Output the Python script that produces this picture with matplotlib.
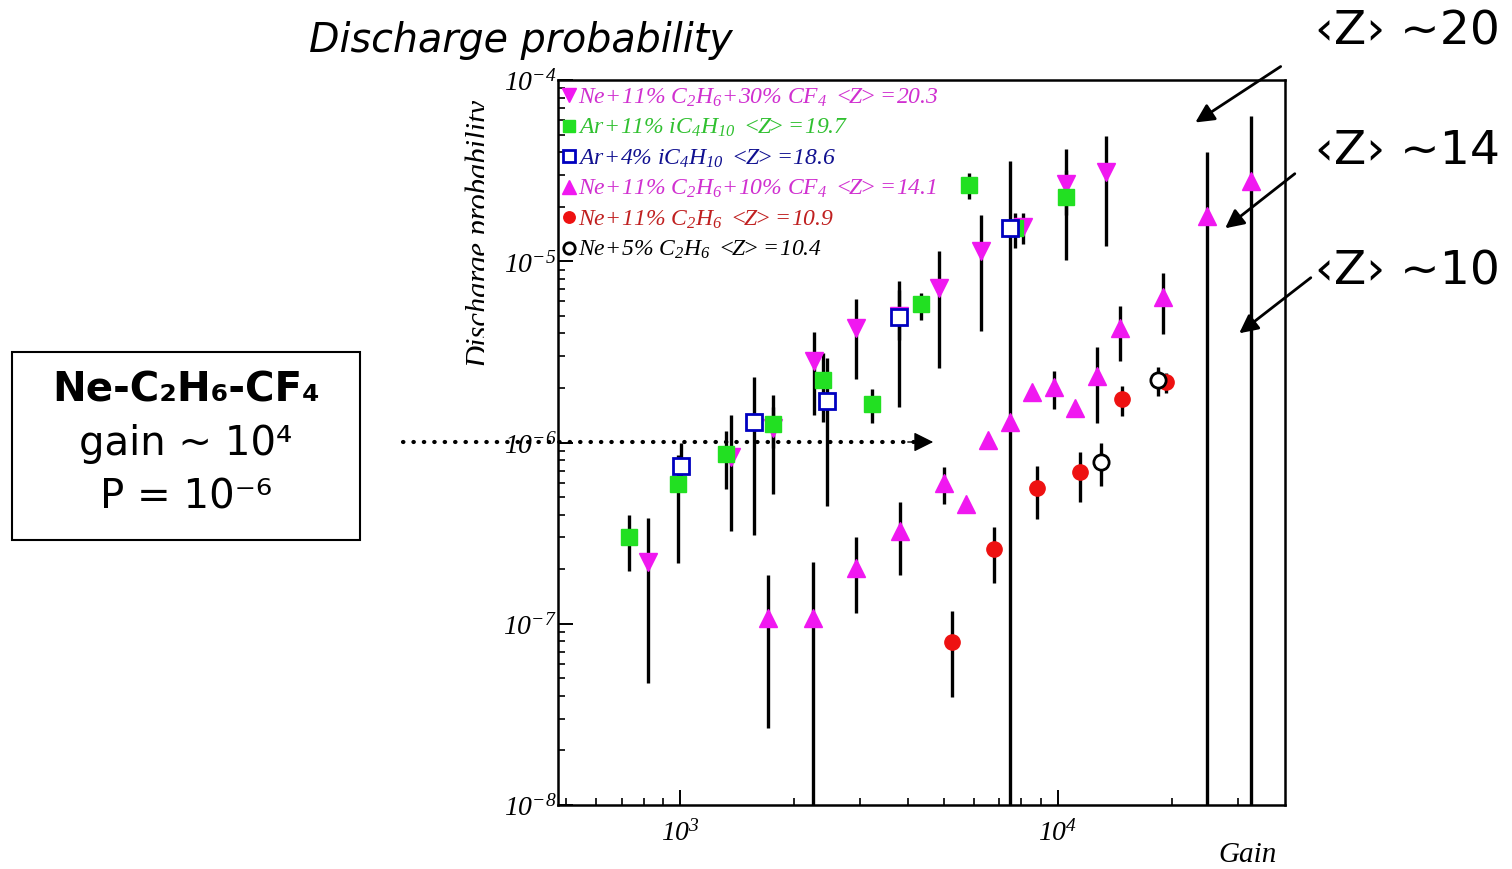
import numpy as np
import matplotlib.pyplot as plt
from matplotlib.lines import Line2D
from matplotlib.patches import Rectangle, FancyArrowPatch
from matplotlib.ticker import LogLocator, NullFormatter
from matplotlib.transforms import Bbox

plt.rcParams['mathtext.fontset'] = 'custom'
plt.rcParams['mathtext.rm'] = 'Liberation Serif:italic'
plt.rcParams['mathtext.it'] = 'Liberation Serif:italic'

# values (gain, probability, lower / upper end of error bar)
# 1e-9 as lower end means the bar runs off the bottom of the plot
ne30_gain = [823, 1364, 1762, 2262, 2922, 3796, 4845, 6256, 8080, 10500, 13400]
ne30_p = [2.19e-7, 8.3e-7, 1.2e-6, 2.82e-6, 4.28e-6, 4.99e-6, 7.11e-6, 1.14e-5, 1.55e-5, 2.67e-5, 3.11e-5]
ne30_lo = [4.7e-8, 3.25e-7, 5.2e-7, 1.42e-6, 2.24e-6, 3.68e-6, 2.58e-6, 4.12e-6, 1.25e-5, 1.8e-5, 1.21e-5]
ne30_hi = [3.83e-7, 1.42e-6, 1.83e-6, 4.07e-6, 6.19e-6, 6.94e-6, 1.14e-5, 1.8e-5, 1.85e-5, 4.16e-5, 4.91e-5]

ar11_gain = [733, 990, 1323, 1762, 2390, 3220, 4342, 5816, 7696, 10500]
ar11_p = [3.01e-7, 5.9e-7, 8.65e-7, 1.26e-6, 2.21e-6, 1.63e-6, 5.81e-6, 2.64e-5, 1.53e-5, 2.26e-5]
ar11_lo = [1.95e-7, 2.16e-7, 5.53e-7, 9.33e-7, 1.3e-6, 1.28e-6, 4.74e-6, 2.2e-5, 1.18e-5, 1.02e-5]
ar11_hi = [3.98e-7, 8.53e-7, 1.16e-6, 1.57e-6, 3.12e-6, 1.97e-6, 6.68e-6, 3.07e-5, 1.85e-5, 3.19e-5]

ar4_gain = [1005, 1570, 2448, 3796, 7464]
ar4_p = [7.41e-7, 1.3e-6, 1.69e-6, 4.92e-6, 1.53e-5]
ar4_lo = [5.47e-7, 3.09e-7, 4.47e-7, 1.57e-6, 1e-9]
ar4_hi = [9.93e-7, 2.3e-6, 2.92e-6, 7.78e-6, 3.57e-5]

ne10_gain = [1709, 2248, 2922, 3819, 4994, 5710, 6527, 7464, 8535, 9760, 11090, 12685, 14590, 18960, 24790, 32400]
ne10_p = [1.08e-7, 1.08e-7, 2.03e-7, 3.25e-7, 5.98e-7, 4.58e-7, 1.03e-6, 1.3e-6, 1.9e-6, 2.02e-6,
          1.55e-6, 2.33e-6, 4.28e-6, 6.35e-6, 1.78e-5, 2.77e-5]
ne10_lo = [2.66e-8, 1e-9, 1.15e-7, 1.86e-7, 4.58e-7, 4.58e-7, 1.03e-6, 1.3e-6, 1.9e-6, 1.53e-6,
           1.55e-6, 1.28e-6, 2.82e-6, 3.97e-6, 1e-9, 1e-9]
ne10_hi = [1.86e-7, 2.19e-7, 3.01e-7, 4.7e-7, 7.33e-7, 4.58e-7, 1.03e-6, 1.3e-6, 1.9e-6, 2.48e-6,
           1.55e-6, 3.37e-6, 5.66e-6, 8.61e-6, 4.01e-5, 6.33e-5]

ne11_gain = [5244, 6770, 8800, 11430, 14770, 19310]
ne11_p = [7.93e-8, 2.58e-7, 5.61e-7, 6.87e-7, 1.74e-6, 2.16e-6]
ne11_lo = [3.94e-8, 1.68e-7, 3.79e-7, 4.7e-7, 1.4e-6, 1.88e-6]
ne11_hi = [1.17e-7, 3.42e-7, 7.41e-7, 8.87e-7, 2.05e-6, 2.42e-6]

ne5_gain = [13000, 18390]
ne5_p = [7.8e-7, 2.21e-6]
ne5_lo = [5.75e-7, 1.81e-6]
ne5_hi = [9.93e-7, 2.61e-6]

labels = [
    r'$Ne\!+\!11\%\ C_2H_6\!+\!30\%\ CF_4\ <\!\!Z\!\!>\!=\!20.3$',
    r'$Ar\!+\!11\%\ iC_4H_{10}\ <\!\!Z\!\!>\!=\!19.7$',
    r'$Ar\!+\!4\%\ iC_4H_{10}\ <\!\!Z\!\!>\!=\!18.6$',
    r'$Ne\!+\!11\%\ C_2H_6\!+\!10\%\ CF_4\ <\!\!Z\!\!>\!=\!14.1$',
    r'$Ne\!+\!11\%\ C_2H_6\ <\!\!Z\!\!>\!=\!10.9$',
    r'$Ne\!+\!5\%\ C_2H_6\ <\!\!Z\!\!>\!=\!10.4$',
]
xtick_labels = [r'$10^{3}$', r'$10^{4}$']
ytick_labels = [r'$10^{-8}$', r'$10^{-7}$', r'$10^{-6}$', r'$10^{-5}$', r'$10^{-4}$']

W, H = 1512, 869
fig = plt.figure(figsize=(W / 100, H / 100), dpi=100)
ax = fig.add_axes([558 / W, 1 - 805 / H, (1285 - 558) / W, (805 - 80) / H])

series = [
    (ne30_gain, ne30_p, ne30_lo, ne30_hi, dict(marker='v', ms=13, mfc='#f018f0', mec='#f018f0')),
    (ar11_gain, ar11_p, ar11_lo, ar11_hi, dict(marker='s', ms=11.5, mfc='#22e022', mec='#22e022')),
    (ar4_gain, ar4_p, ar4_lo, ar4_hi, dict(marker='s', ms=11, mfc='white', mec='#0000c0', mew=2)),
    (ne10_gain, ne10_p, ne10_lo, ne10_hi, dict(marker='^', ms=13, mfc='#f018f0', mec='#f018f0')),
    (ne11_gain, ne11_p, ne11_lo, ne11_hi, dict(marker='o', ms=11, mfc='#ee1111', mec='#ee1111')),
    (ne5_gain, ne5_p, ne5_lo, ne5_hi, dict(marker='o', ms=11, mfc='white', mec='black', mew=2)),
]

# error bars first, markers on top
for g, p, lo, hi, st in series:
    p = np.array(p)
    yerr = [p - np.array(lo), np.array(hi) - p]
    ax.errorbar(g, p, yerr=yerr, fmt='none', ecolor='black', elinewidth=2.4, capsize=0, zorder=2)
for g, p, lo, hi, st in series:
    ax.plot(g, p, ls='none', zorder=3, **st)

ax.set_xscale('log')
ax.set_yscale('log')
ax.set_xlim(475, 39900)
ax.set_ylim(1e-8, 1e-4)

for s in ax.spines.values():
    s.set_linewidth(1.8)

ax.set_xticks([1e3, 1e4])
ax.set_xticklabels(xtick_labels, fontsize=20, math_fontfamily='custom')
ax.set_yticks([1e-8, 1e-7, 1e-6, 1e-5, 1e-4])
ax.set_yticklabels(ytick_labels, fontsize=20, math_fontfamily='custom')
ax.xaxis.set_minor_locator(LogLocator(base=10, subs=np.arange(2, 10)))
ax.yaxis.set_minor_locator(LogLocator(base=10, subs=np.arange(2, 10)))
ax.xaxis.set_minor_formatter(NullFormatter())
ax.yaxis.set_minor_formatter(NullFormatter())
ax.tick_params(which='major', direction='in', length=11, width=1.4, top=False, right=False)
ax.tick_params(which='minor', direction='in', length=5, width=1.2, top=False, right=False)
ax.tick_params(axis='x', which='major', pad=10)
ax.tick_params(axis='y', which='major', pad=1)

# legend
text_colors = ['#d030d0', '#30c030', '#101090', '#d030d0', '#c02020', 'black']
handles = [Line2D([], [], ls='none', **dict(st, ms=st['ms'] * 0.75)) for _, _, _, _, st in series]
leg = ax.legend(handles, labels, loc='upper left', frameon=False,
                prop={'size': 17}, labelcolor=text_colors, handlelength=0.5,
                handletextpad=0.15, labelspacing=0.26, borderaxespad=0.0,
                borderpad=0.2)
for t in leg.get_texts():
    t.set_math_fontfamily('custom')

fig.text(1248 / W, 1 - 855 / H, 'Gain', ha='center', va='center', fontsize=21,
         family='Liberation Serif', style='italic')

ylab = fig.text(481 / W, 1 - 234 / H, 'Discharge probability', rotation=90, ha='center',
                va='center', fontsize=22, family='Liberation Serif', style='italic')
ylab.set_clip_box(Bbox.from_extents(440, 869 - 420, 484, 869 - 60))
ylab.set_clip_on(True)

# slide annotations
fig.text(521 / W, 1 - 40 / H, 'Discharge probability', ha='center', va='center',
         fontsize=28.5, style='italic')

fig.add_artist(Rectangle((12 / W, 1 - 540 / H), 348 / W, 188 / H, transform=fig.transFigure,
                         fill=False, lw=1.5, ec='black'))
fig.text(186 / W, 1 - 390 / H, 'Ne-C₂H₆-CF₄', ha='center', va='center', fontsize=29, weight='bold')
fig.text(186 / W, 1 - 444 / H, 'gain ~ 10⁴', ha='center', va='center', fontsize=29)
fig.text(186 / W, 1 - 497 / H, 'P = 10⁻⁶', ha='center', va='center', fontsize=29)

for lab, yy in [('‹Z› ~20', 32), ('‹Z› ~14', 152), ('‹Z› ~10', 272)]:
    fig.text(1315 / W, 1 - yy / H, lab, ha='left', va='center', fontsize=34)

for (x0, y0), (x1, y1) in [((1283, 65), (1193, 124)), ((1297, 172), (1223, 230)),
                           ((1313, 276), (1237, 335))]:
    fig.add_artist(FancyArrowPatch((x0 / W, 1 - y0 / H), (x1 / W, 1 - y1 / H),
                                   transform=fig.transFigure, arrowstyle='-|>',
                                   mutation_scale=28, lw=2, color='black'))

# dotted arrow at P = 1e-6
fig.add_artist(Line2D([403 / W, 915 / W], [1 - 442 / H, 1 - 442 / H], transform=fig.transFigure,
                      color='black', lw=3, ls=(0, (0.1, 2.4)), dash_capstyle='round', zorder=5))
fig.add_artist(FancyArrowPatch((905 / W, 1 - 442 / H), (936 / W, 1 - 442 / H),
                               transform=fig.transFigure, arrowstyle='-|>',
                               mutation_scale=30, lw=1, color='black', zorder=5))

fig.savefig('out.png', dpi=100)
